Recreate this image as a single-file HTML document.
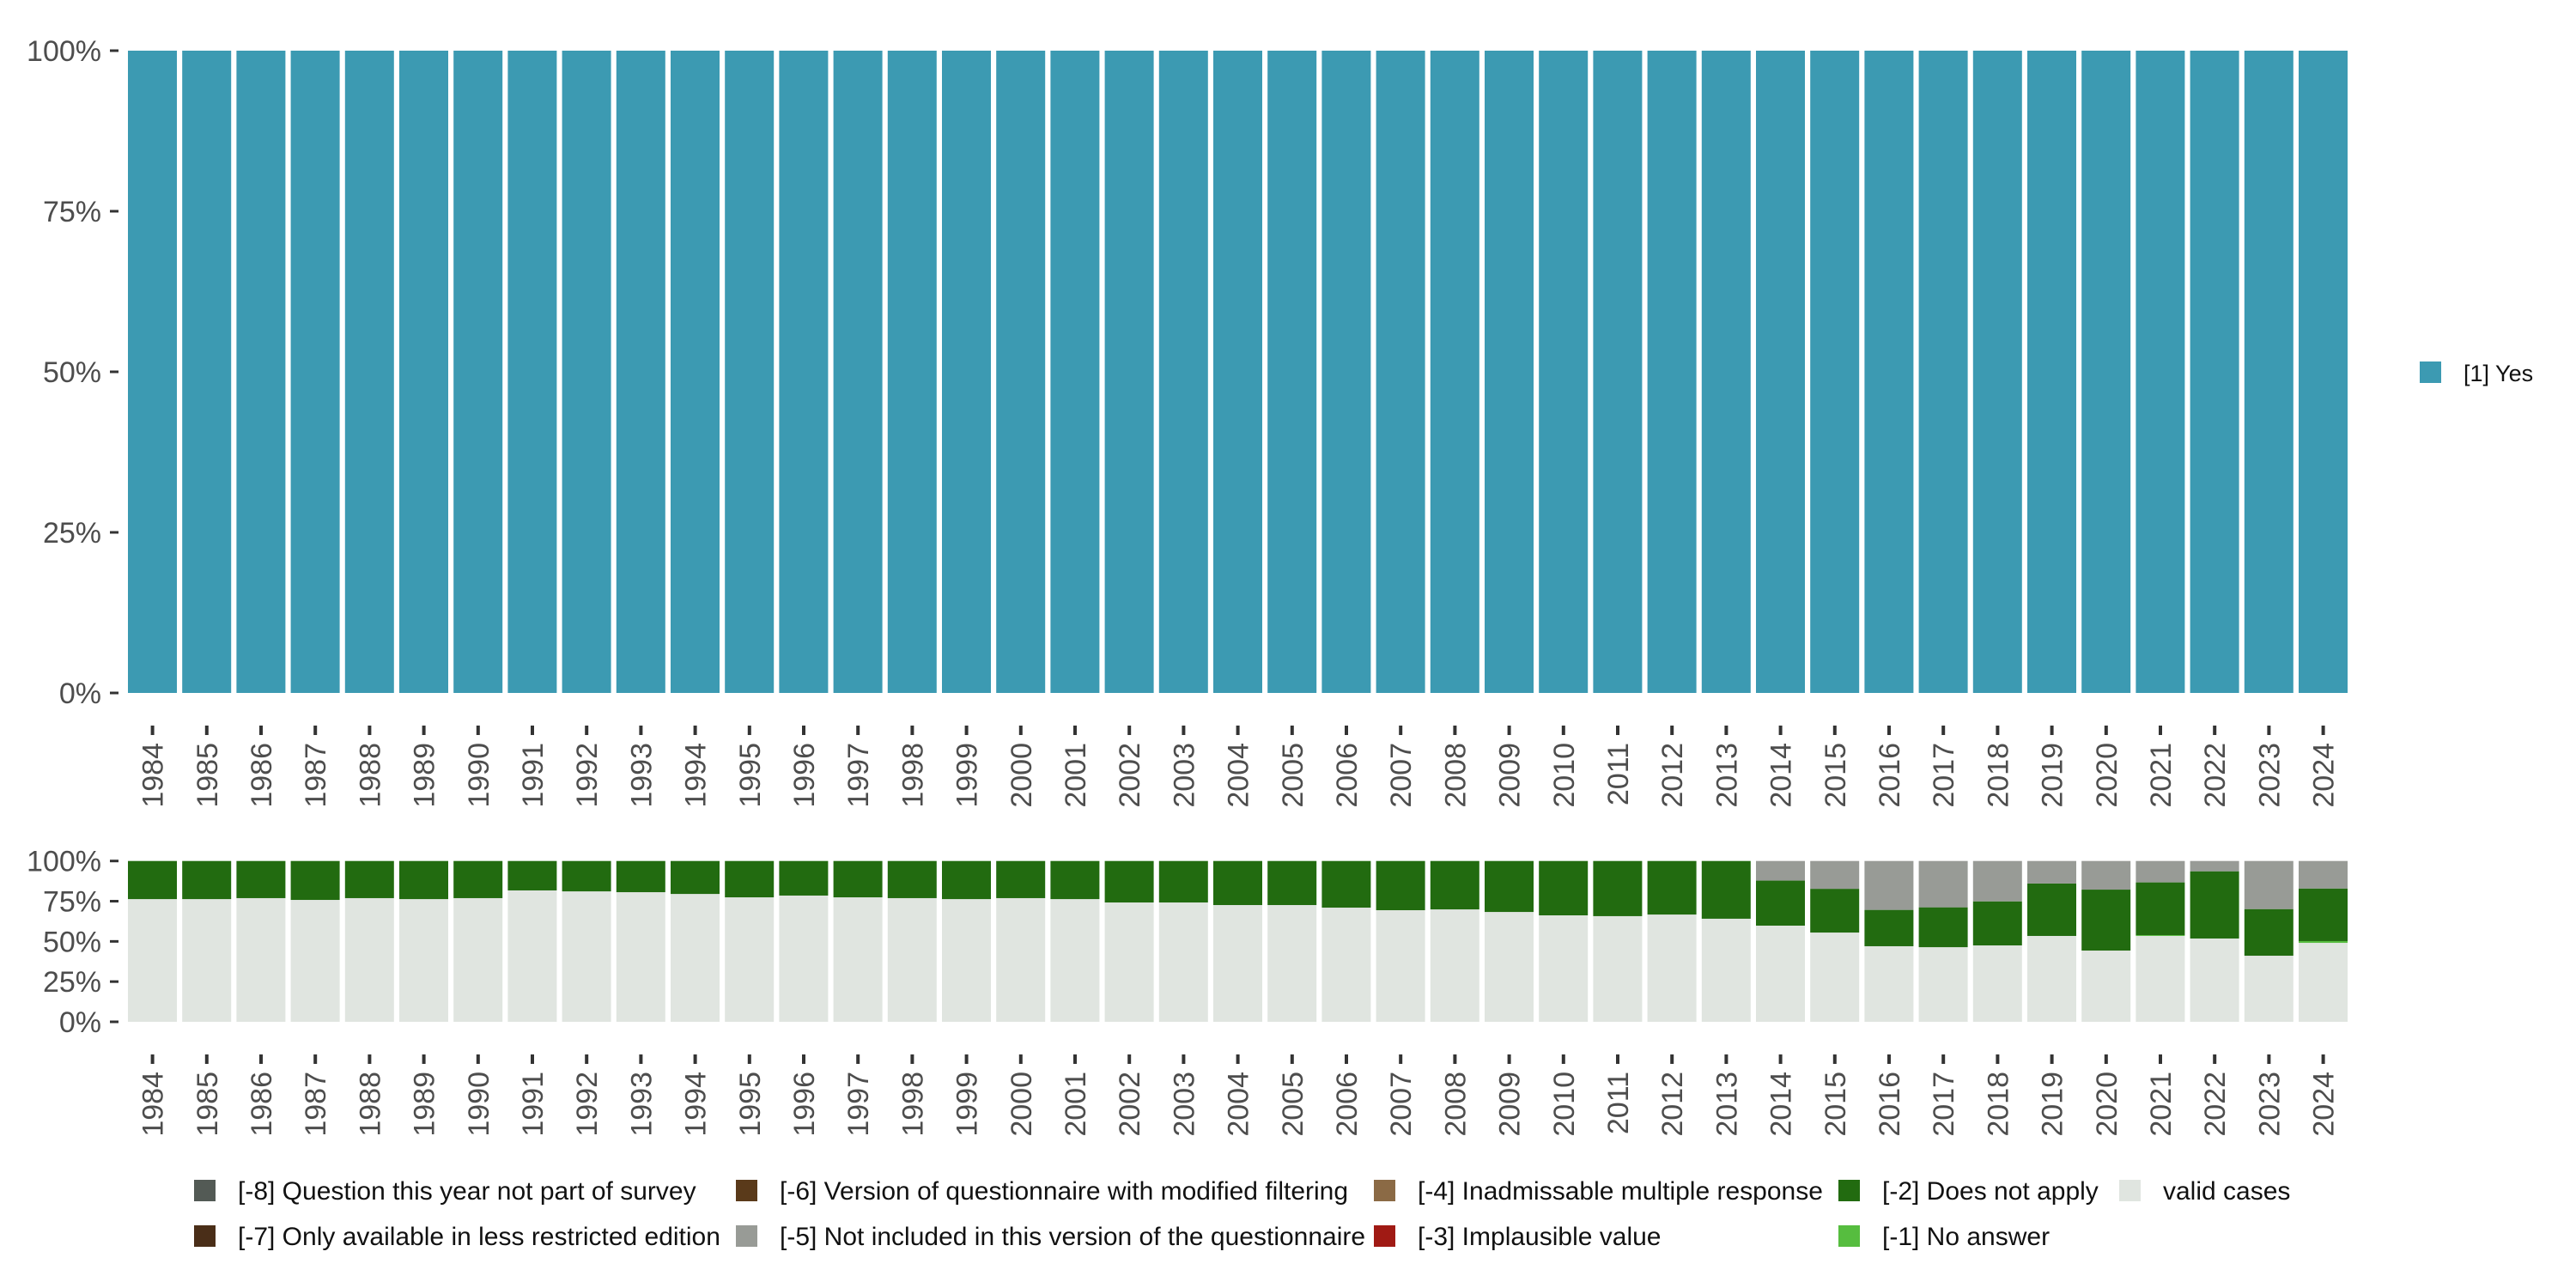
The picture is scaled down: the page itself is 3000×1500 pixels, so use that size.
<!DOCTYPE html>
<html><head><meta charset="utf-8"><style>
html,body{margin:0;padding:0;background:#fff;}
svg{display:block;font-family:"Liberation Sans",sans-serif;}
</style></head><body>
<svg id="chart" width="3000" height="1500" viewBox="0 0 3000 1500"></svg>
<script>
const years = [1984,1985,1986,1987,1988,1989,1990,1991,1992,1993,1994,1995,1996,1997,1998,1999,2000,2001,2002,2003,2004,2005,2006,2007,2008,2009,2010,2011,2012,2013,2014,2015,2016,2017,2018,2019,2020,2021,2022,2023,2024];
const yesShare = years.map(()=>100);
const validCases = [76.3,76.3,76.9,75.8,76.9,76.3,76.9,81.7,81.1,80.6,79.5,77.4,78.5,77.4,76.9,76.3,76.9,76.3,74.2,74.2,72.6,72.6,71.0,69.4,69.9,68.3,66.2,65.7,66.7,64.1,59.8,55.5,47.0,46.4,47.5,53.4,44.3,53.4,51.8,41.1,49.1];
const noAnswer = [0,0,0,0,0,0,0,0,0,0,0,0,0,0,0,0,0,0,0,0,0,0,0,0,0,0,0,0,0,0,0,0,0,0,0,0,0,0.5,0,0,1.1];
const notInVersion = [0,0,0,0,0,0,0,0,0,0,0,0,0,0,0,0,0,0,0,0,0,0,0,0,0,0,0,0,0,0,12.2,17.3,30.4,28.8,25.1,14.0,17.8,13.3,6.4,29.9,17.1];
const yTicks = [0,25,50,75,100];
const yTickLabels = ["0%","25%","50%","75%","100%"];

const NS="http://www.w3.org/2000/svg";
const svg=document.getElementById('chart');
function mk(tag,attrs,parent){const e=document.createElementNS(NS,tag);for(const k in attrs)e.setAttribute(k,attrs[k]);(parent||svg).appendChild(e);return e;}

const X0=146, STEP=63.2, BW=57;
const xPos=i=>X0+i*STEP+3;
const xCenter=i=>X0+i*STEP+STEP/2;

function panel(top,bottom,name){
  const g=mk('g',{});
  
  
  const y=v=>bottom-(v/100)*(bottom-top);
  yTicks.forEach((t,k)=>{
    const tk=mk('line',{x1:128,x2:138,y1:y(t),y2:y(t),stroke:'#333','stroke-width':3},g);
    
    
    const tl=mk('text',{x:118,y:y(t)+12,'text-anchor':'end','font-size':34,fill:'#4d4d4d'},g);
    tl.textContent=yTickLabels[k];
    
    
  });
  years.forEach((yr,i)=>{
    const tk=mk('line',{x1:xCenter(i),x2:xCenter(i),y1:bottom+38,y2:bottom+49,stroke:'#333','stroke-width':4},g);
    
    
    const cx=xCenter(i)+12, cy=bottom+58;
    const tl=mk('text',{x:cx,y:cy,'text-anchor':'end','font-size':34,fill:'#4d4d4d',transform:`rotate(-90 ${cx} ${cy})`},g);
    tl.textContent=yr;
    
    
  });
  return {g,y};
}

const P1=panel(59,807,'top-panel');
years.forEach((yr,i)=>{
  const r=mk('rect',{x:xPos(i),width:BW,y:P1.y(yesShare[i]),height:P1.y(0)-P1.y(yesShare[i]),fill:'#3c9ab2'},P1.g);
  
  
});

const P2=panel(1002.7,1190,'bottom-panel');
years.forEach((yr,i)=>{
  const segs=[
    [validCases[i],'#e0e5e0','valid'],
    [noAnswer[i],'#56bd3f','no-answer'],
    [100-validCases[i]-noAnswer[i]-notInVersion[i],'#226b10','does-not-apply'],
    [notInVersion[i],'#989b96','not-included']
  ];
  let acc=0;
  segs.forEach(s=>{
    if(s[0]<=0)return;
    const r=mk('rect',{x:xPos(i),width:BW,y:P2.y(acc+s[0]),height:P2.y(acc)-P2.y(acc+s[0]),fill:s[1]},P2.g);
    
    
    acc+=s[0];
  });
});

const lg=mk('g',{});


const lk=mk('rect',{x:2818,y:421,width:25,height:25,fill:'#3c9ab2'},lg);


const lt=mk('text',{x:2869,y:444,'font-size':27,fill:'#111'},lg);
lt.textContent='[1] Yes';



const legendItems=[
  [226,1374,'#535a55','[-8] Question this year not part of survey'],
  [226,1427,'#4a2e18','[-7] Only available in less restricted edition'],
  [857,1374,'#5a3a1a','[-6] Version of questionnaire with modified filtering'],
  [857,1427,'#989b96','[-5] Not included in this version of the questionnaire'],
  [1600,1374,'#8b6a45','[-4] Inadmissable multiple response'],
  [1600,1427,'#a01a14','[-3] Implausible value'],
  [2141,1374,'#226b10','[-2] Does not apply'],
  [2141,1427,'#56bd3f','[-1] No answer'],
  [2468,1374,'#e0e5e0','valid cases']
];
const lb=mk('g',{});


legendItems.forEach(it=>{
  const r=mk('rect',{x:it[0],y:it[1],width:25,height:25,fill:it[2]},lb);
  
  
  const t=mk('text',{x:it[0]+51,y:it[1]+23,'font-size':30,fill:'#111'},lb);
  t.textContent=it[3];
  
  
});
</script>
</body></html>
